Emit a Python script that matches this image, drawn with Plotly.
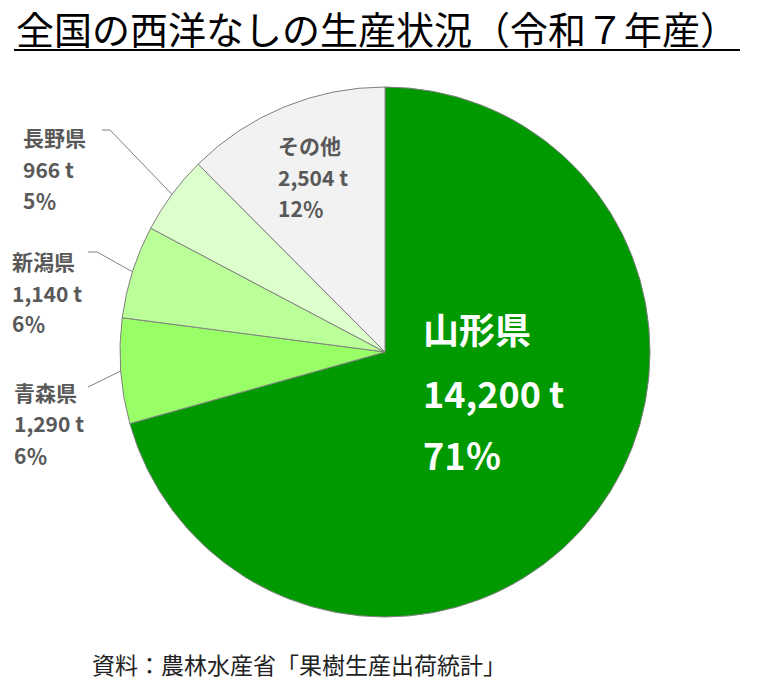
import math
import plotly.graph_objects as go

# data
regions = ["山形県", "青森県", "新潟県", "長野県", "その他"]
tons = [14200, 1290, 1140, 966, 2504]
colors = ["#009900", "#99ff66", "#bbff99", "#ddffcc", "#f2f2f2"]

W, H = 770, 700
CX, CY, R = 385, 352, 265


def px(x):
    return x / W


def py(y):
    return 1 - y / H


total = sum(tons)
pct = [round(v / total * 100) for v in tons]

fig = go.Figure(go.Pie(
    labels=regions,
    values=tons,
    sort=False,
    direction="clockwise",
    rotation=0,
    textinfo="none",
    hoverinfo="label+value+percent",
    marker=dict(colors=colors, line=dict(color="#808080", width=1)),
    domain=dict(x=[px(CX - R), px(CX + R)], y=[py(CY + R), py(CY - R)]),
    showlegend=False,
))

FONT = "Noto Sans CJK JP"
annotations = []
shapes = []


def add_label(i, x, rows_y, size, color, anchor="left"):
    texts = [regions[i], f"{tons[i]:,} t", f"{pct[i]}％"]
    for t, y in zip(texts, rows_y):
        annotations.append(dict(
            x=px(x), y=py(y), xref="paper", yref="paper",
            text=t, showarrow=False, xanchor=anchor, yanchor="middle",
            font=dict(family=FONT, size=size, color=color, weight="bold"),
        ))


# 山形県 and その他 inside their slices
add_label(0, 421, [328, 392, 454], 36, "white")
add_label(4, 276, [145, 177, 208], 21, "#595959")

# outer labels with leader lines
outer = {
    3: dict(x=21, rows=[137, 169, 200], line_start=(102, 130), elbow=(110, 130)),
    2: dict(x=10, rows=[261, 293, 323], line_start=(88, 252), elbow=(97, 252)),
    1: dict(x=12, rows=[392, 423, 455], line_start=(88, 387), elbow=(88, 387)),
}
cum = 0
mids = []
for v in tons:
    mids.append((cum + v / 2) / total * 360)
    cum += v

for i, o in outer.items():
    add_label(i, o["x"], o["rows"], 21, "#595959")
    a = math.radians(mids[i])
    ex = CX + R * math.sin(a)
    ey = CY - R * math.cos(a)
    pts = [o["line_start"], o["elbow"], (ex, ey)]
    for (x0, y0), (x1, y1) in zip(pts[:-1], pts[1:]):
        if (x0, y0) == (x1, y1):
            continue
        shapes.append(dict(type="line", xref="paper", yref="paper",
                           x0=px(x0), y0=py(y0), x1=px(x1), y1=py(y1),
                           line=dict(color="#808080", width=1)))

# title and source
annotations.append(dict(
    x=px(14), y=py(27), xref="paper", yref="paper",
    text="全国の西洋なしの生産状況（令和７年産）", showarrow=False,
    xanchor="left", yanchor="middle",
    font=dict(family=FONT, size=38, color="black"),
))
shapes.append(dict(type="line", xref="paper", yref="paper",
                   x0=px(14), y0=py(50), x1=px(740), y1=py(50),
                   line=dict(color="black", width=2)))
annotations.append(dict(
    x=px(90), y=py(664), xref="paper", yref="paper",
    text="資料：農林水産省「果樹生産出荷統計」", showarrow=False,
    xanchor="left", yanchor="middle",
    font=dict(family=FONT, size=23, color="#222222"),
))

fig.update_layout(
    width=W, height=H,
    margin=dict(l=0, r=0, t=0, b=0),
    paper_bgcolor="white",
    annotations=annotations,
    shapes=shapes,
)
# drop the browser's default body margin so the figure fills the window
fig.write_html("out.html", config={"displayModeBar": False},
               post_script="document.body.style.margin='0';")
